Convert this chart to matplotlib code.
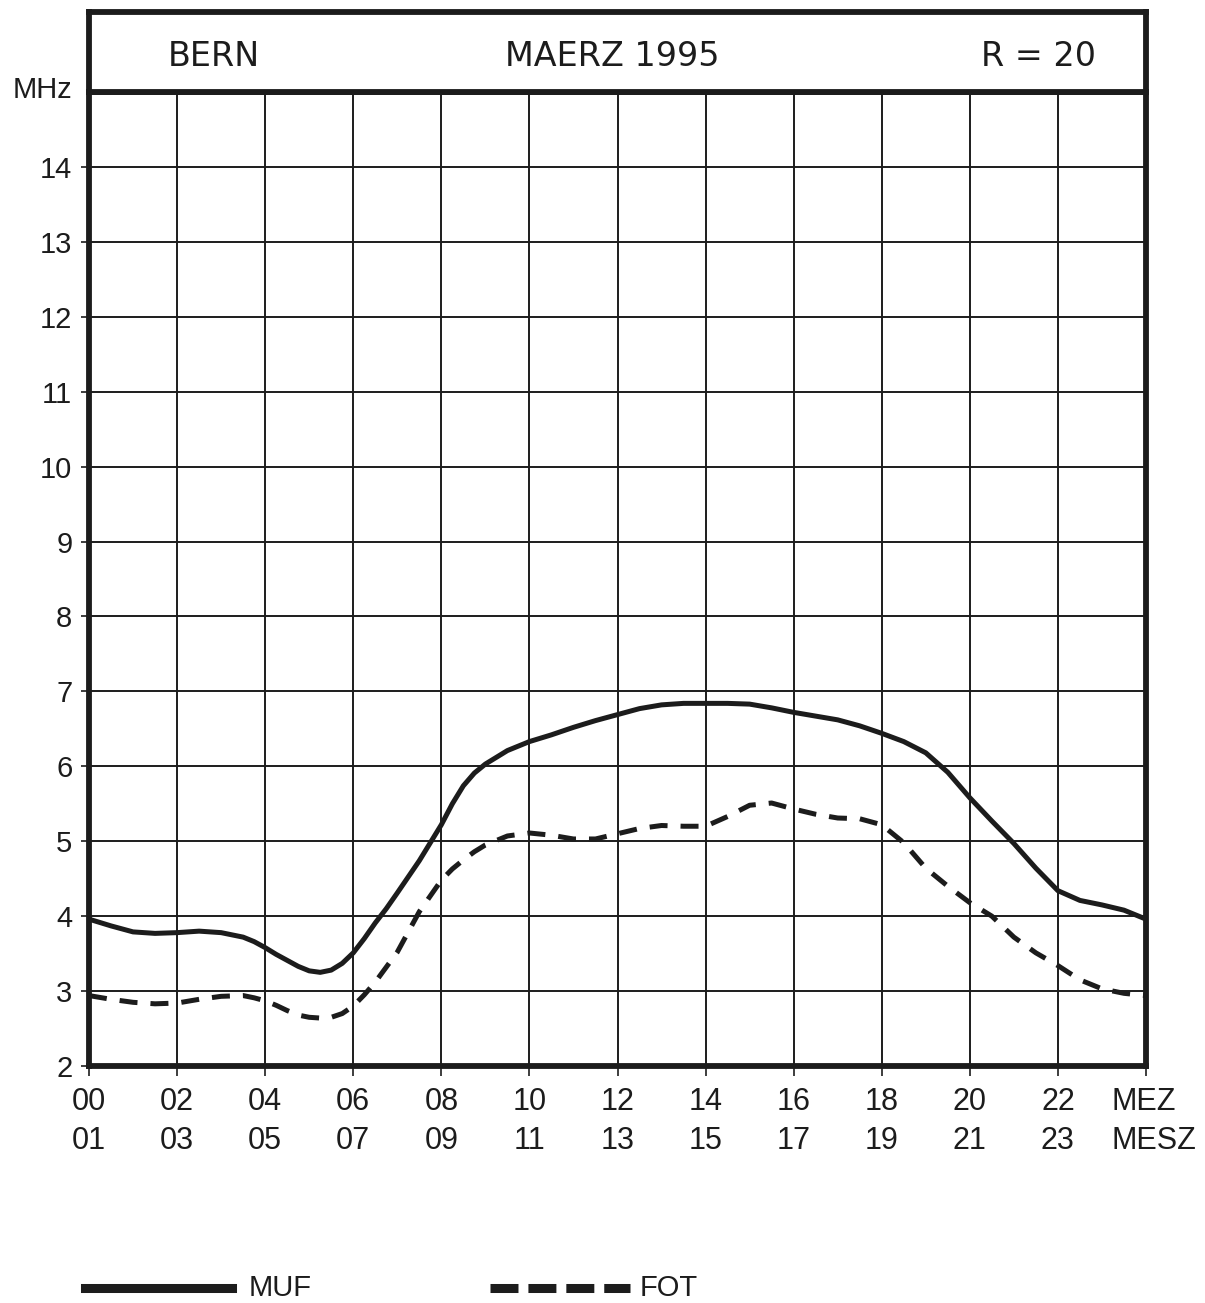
import matplotlib
matplotlib.use("Agg")
import matplotlib.pyplot as plt
import matplotlib.transforms as mtransforms
from matplotlib.lines import Line2D

plt.rcParams["font.family"] = ["Liberation Sans", "DejaVu Sans"]

# hours (MEZ) and frequencies in MHz
hours = [0, 0.5, 1, 1.5, 2, 2.5, 3, 3.5, 3.75, 4, 4.25, 4.5, 4.75, 5, 5.25, 5.5,
         5.75, 6, 6.25, 6.5, 6.75, 7, 7.5, 8, 8.25, 8.5, 8.75, 9, 9.5, 10, 10.5,
         11, 11.5, 12, 12.5, 13, 13.5, 14, 14.5, 15, 15.5, 16, 16.5, 17, 17.5,
         18, 18.5, 19, 19.5, 20, 20.5, 21, 21.5, 22, 22.5, 23, 23.5, 24]
muf = [3.96, 3.87, 3.79, 3.77, 3.78, 3.80, 3.78, 3.72, 3.66, 3.58, 3.49, 3.41,
       3.33, 3.27, 3.25, 3.28, 3.37, 3.51, 3.70, 3.91, 4.10, 4.31, 4.74, 5.22,
       5.50, 5.74, 5.91, 6.03, 6.21, 6.33, 6.42, 6.52, 6.61, 6.69, 6.77, 6.82,
       6.84, 6.84, 6.84, 6.83, 6.78, 6.72, 6.67, 6.62, 6.54, 6.44, 6.33, 6.18,
       5.92, 5.58, 5.27, 4.97, 4.64, 4.34, 4.21, 4.15, 4.08, 3.96]
fot = [2.94, 2.89, 2.85, 2.83, 2.84, 2.89, 2.93, 2.94, 2.91, 2.87, 2.81, 2.74,
       2.68, 2.65, 2.64, 2.65, 2.70, 2.80, 2.95, 3.12, 3.32, 3.52, 4.06, 4.48,
       4.63, 4.75, 4.86, 4.95, 5.07, 5.11, 5.08, 5.03, 5.03, 5.10, 5.17, 5.21,
       5.20, 5.20, 5.33, 5.48, 5.51, 5.43, 5.36, 5.31, 5.30, 5.22, 4.98, 4.64,
       4.40, 4.18, 4.00, 3.72, 3.51, 3.34, 3.15, 3.03, 2.97, 2.94]

y_ticks = list(range(2, 15))
x_ticks = list(range(0, 25, 2))
mez_labels = ["00", "02", "04", "06", "08", "10", "12", "14", "16", "18", "20", "22", "MEZ"]
mesz_labels = ["01", "03", "05", "07", "09", "11", "13", "15", "17", "19", "21", "23", "MESZ"]

ink = "#1c1c1c"
W, H = 1205, 1303

fig = plt.figure(figsize=(W / 100, H / 100), dpi=100)
fig.patch.set_facecolor("white")

left, right = 89 / W, 1146 / W
bottom, top = 1 - 1066 / H, 1 - 92 / H
title_top = 1 - 12 / H

ax = fig.add_axes([left, bottom, right - left, top - bottom])
ax.set_xlim(0, 24)
ax.set_ylim(2, 15)

for x in x_ticks:
    ax.axvline(x, color=ink, lw=1.4, zorder=1)
for y in y_ticks:
    ax.axhline(y, color=ink, lw=1.4, zorder=1)

ax.plot(hours, muf, color=ink, lw=3.6, solid_capstyle="round",
        solid_joinstyle="round", zorder=3)
ax.plot(hours, fot, color=ink, lw=3.6, dashes=(3.6, 2.6), zorder=3)

for sp in ax.spines.values():
    sp.set_linewidth(4.2)
    sp.set_color(ink)

ax.set_yticks(y_ticks)
ax.set_yticklabels([str(v) for v in y_ticks])
ax.set_xticks(x_ticks)
ax.set_xticklabels([f"{a}\n{b}" for a, b in zip(mez_labels, mesz_labels)],
                   linespacing=1.42)
ax.tick_params(axis="y", direction="out", length=6, width=1.2, pad=6,
               labelsize=21, colors=ink)
ax.tick_params(axis="x", direction="out", length=7, width=1.2, pad=8,
               labelsize=22, colors=ink)

# MEZ/MESZ starts a bit left of the last grid line, lines left-aligned
lab = ax.get_xticklabels()[-1]
lab.set_multialignment("left")
lab.set_horizontalalignment("left")
lab.set_transform(lab.get_transform() + mtransforms.ScaledTranslation(-0.34, 0, fig.dpi_scale_trans))

fig.text(72 / W, 1 - 90 / H, "MHz", ha="right", va="center", fontsize=21, color=ink)

# title box
tax = fig.add_axes([left, top, right - left, title_top - top])
tax.set_xticks([])
tax.set_yticks([])
for sp in tax.spines.values():
    sp.set_linewidth(4.2)
    sp.set_color(ink)
tfont = dict(family="DejaVu Sans", fontsize=24, color=ink, va="center")
ty = 0.45
tax.text((168 - 89) / 1057, ty, "BERN", ha="left", transform=tax.transAxes, **tfont)
tax.text((612 - 89) / 1057, ty, "MAERZ 1995", ha="center", transform=tax.transAxes, **tfont)
tax.text((1096 - 89) / 1057, ty, "R = 20", ha="right", transform=tax.transAxes, **tfont)

# legend drawn below the chart
ly = 1 - 1288 / H
fig.add_artist(Line2D([85 / W, 232 / W], [ly, ly], color=ink, lw=6.5,
                      transform=fig.transFigure))
fig.text(249 / W, ly, "MUF", ha="left", va="center", fontsize=21, color=ink)
fig.add_artist(Line2D([490 / W, 630 / W], [ly, ly], color=ink, lw=6.5,
                      dashes=(3.1, 1.1), transform=fig.transFigure))
fig.text(640 / W, ly, "FOT", ha="left", va="center", fontsize=21, color=ink)

fig.savefig("out.png", dpi=100, facecolor="white")
